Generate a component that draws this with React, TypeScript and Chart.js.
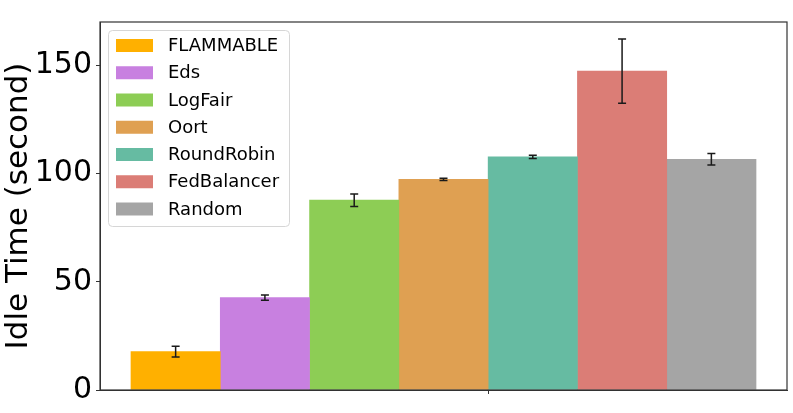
import React, { useEffect, useRef } from "react";
import { Chart, registerables } from "chart.js";

Chart.register(...registerables);

const methods = ["FLAMMABLE", "Eds", "LogFair", "Oort", "RoundRobin", "FedBalancer", "Random"];
const idleTimes = [17.7, 42.7, 87.7, 97.3, 107.7, 147.3, 106.6];
const idleErrors = [2.5, 1.2, 2.9, 0.5, 0.8, 14.8, 2.7];
const barColors = ["#FFB000", "#C880E0", "#8DCD55", "#DFA052", "#66BBA2", "#DB7D76", "#A5A5A5"];
const yTickValues = [0, 50, 100, 150];
const xTickValues = [3.5];
const yMax = 170;
const yTitle = "Idle Time (second)";

const FONT = "'DejaVu Sans', sans-serif";

export default function App() {
  const ref = useRef<HTMLCanvasElement>(null);

  useEffect(() => {
    if (!ref.current) return;

    const errorBars = {
      id: "errorBars",
      afterDatasetsDraw(chart: any) {
        const { ctx } = chart;
        const x = chart.scales.x;
        const y = chart.scales.y;
        ctx.save();
        ctx.strokeStyle = "#1a1a1a";
        ctx.lineWidth = 1.5;
        idleTimes.forEach((v, i) => {
          const px = x.getPixelForValue(i);
          const top = y.getPixelForValue(v + idleErrors[i]);
          const bot = y.getPixelForValue(v - idleErrors[i]);
          ctx.beginPath();
          ctx.moveTo(px, top);
          ctx.lineTo(px, bot);
          ctx.moveTo(px - 4, top);
          ctx.lineTo(px + 4, top);
          ctx.moveTo(px - 4, bot);
          ctx.lineTo(px + 4, bot);
          ctx.stroke();
        });
        ctx.restore();
      },
    };

    const frameLegend = {
      id: "frameLegend",
      afterDraw(chart: any) {
        const { ctx, chartArea: ca } = chart;
        ctx.save();
        // spines
        ctx.strokeStyle = "#333";
        ctx.lineWidth = 1.2;
        ctx.strokeRect(ca.left, ca.top, ca.right - ca.left, ca.bottom - ca.top);

        // legend box
        const lx = ca.left + 8.5;
        const ly = ca.top + 8.5;
        const lw = 181;
        const lh = 196;
        const r = 4;
        ctx.beginPath();
        ctx.moveTo(lx + r, ly);
        ctx.lineTo(lx + lw - r, ly);
        ctx.arcTo(lx + lw, ly, lx + lw, ly + r, r);
        ctx.lineTo(lx + lw, ly + lh - r);
        ctx.arcTo(lx + lw, ly + lh, lx + lw - r, ly + lh, r);
        ctx.lineTo(lx + r, ly + lh);
        ctx.arcTo(lx, ly + lh, lx, ly + lh - r, r);
        ctx.lineTo(lx, ly + r);
        ctx.arcTo(lx, ly, lx + r, ly, r);
        ctx.closePath();
        ctx.fillStyle = "rgba(255,255,255,0.8)";
        ctx.fill();
        ctx.strokeStyle = "#d6d6d6";
        ctx.lineWidth = 1;
        ctx.stroke();

        ctx.font = `18px ${FONT}`;
        ctx.textBaseline = "middle";
        ctx.textAlign = "left";
        chart.data.datasets.forEach((ds: any, k: number) => {
          const cy = ca.top + 23.5 + k * 27.25;
          ctx.fillStyle = ds.backgroundColor;
          ctx.fillRect(ca.left + 16, cy - 6.5, 37, 13);
          ctx.fillStyle = "#000";
          ctx.fillText(ds.label, ca.left + 68, cy + 1);
        });
        ctx.restore();
      },
    };

    const chart = new Chart(ref.current, {
      type: "bar",
      data: {
        datasets: methods.map((m, i) => ({
          label: m,
          data: [{ x: i, y: idleTimes[i] }],
          backgroundColor: barColors[i],
          borderWidth: 0,
          categoryPercentage: 1,
          barPercentage: 1,
        })),
      },
      options: {
        animation: false,
        responsive: true,
        maintainAspectRatio: false,
        layout: { padding: { left: 0, top: 6, right: 6, bottom: 0 } },
        plugins: { legend: { display: false }, tooltip: { enabled: false } },
        scales: {
          x: {
            type: "linear",
            stacked: true,
            offset: false,
            min: -0.847,
            max: 6.847,
            afterBuildTicks: (s: any) => {
              s.ticks = xTickValues.map((v) => ({ value: v }));
            },
            afterFit: (s: any) => {
              s.height = 23;
            },
            ticks: { display: false },
            grid: { drawOnChartArea: false, tickLength: 4, color: "#333", offset: false },
            border: { color: "#333" },
          },
          y: {
            min: 0,
            max: yMax,
            afterBuildTicks: (s: any) => {
              s.ticks = yTickValues.map((v) => ({ value: v }));
            },
            afterFit: (s: any) => {
              s.width = 100;
            },
            ticks: { font: { family: FONT, size: 30 }, color: "#000", padding: 4 },
            grid: { drawOnChartArea: false, tickLength: 4, color: "#333" },
            border: { color: "#333" },
            title: {
              display: true,
              text: yTitle,
              font: { family: FONT, size: 31 },
              color: "#000",
              padding: 0,
            },
          },
        },
      } as any,
      plugins: [errorBars, frameLegend],
    });

    return () => chart.destroy();
  }, []);

  return (
    <div style={{ position: "fixed", left: 0, top: 0, width: 793, height: 413 }}>
      <canvas ref={ref} />
    </div>
  );
}
